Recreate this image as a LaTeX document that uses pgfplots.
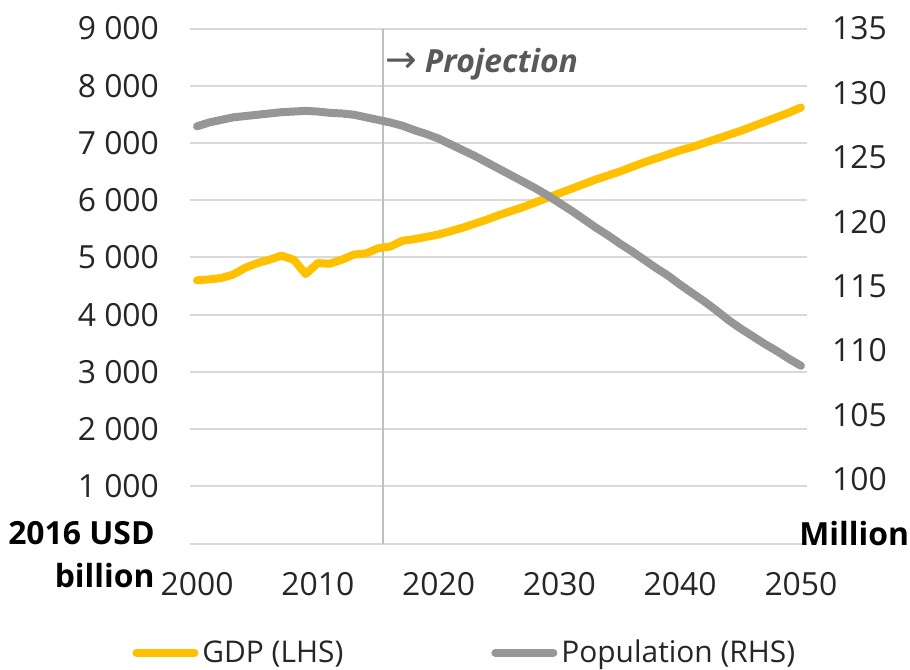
\documentclass[border=0pt]{standalone}
\usepackage{fontspec}
\setmainfont{Open Sans}
\newfontfamily\arrowfont{DejaVu Sans}
\usepackage{pgfplots}
\usepackage{pgfplotstable}
\pgfplotsset{compat=1.18}
\definecolor{gdp}{HTML}{FFC000}
\definecolor{pop}{HTML}{969696}
\definecolor{gridc}{HTML}{D9D9D9}
\definecolor{vline}{HTML}{BFBFBF}
\definecolor{projc}{HTML}{595959}
\definecolor{txt}{HTML}{262626}

\pgfplotstableread{
year gdp
2000 4600
2001 4615
2002 4640
2003 4700
2004 4820
2005 4900
2006 4960
2007 5030
2008 4960
2009 4710
2010 4900
2011 4890
2012 4960
2013 5050
2014 5070
2015 5160
2016 5190
2017 5290
2018 5320
2019 5360
2020 5400
2021 5460
2022 5520
2023 5590
2024 5660
2025 5740
2026 5810
2027 5880
2028 5960
2029 6040
2030 6120
2031 6200
2032 6280
2033 6360
2034 6430
2035 6500
2036 6580
2037 6660
2038 6730
2039 6800
2040 6870
2041 6930
2042 7000
2043 7070
2044 7140
2045 7210
2046 7290
2047 7370
2048 7450
2049 7530
2050 7620
}\gdptable

\pgfplotstableread{
year pop
2000 127.4
2001 127.7
2002 127.9
2003 128.1
2004 128.2
2005 128.3
2006 128.4
2007 128.5
2008 128.55
2009 128.6
2010 128.55
2011 128.45
2012 128.4
2013 128.3
2014 128.1
2015 127.9
2016 127.7
2017 127.45
2018 127.1
2019 126.8
2020 126.45
2021 126.0
2022 125.55
2023 125.1
2024 124.6
2025 124.1
2026 123.6
2027 123.1
2028 122.6
2029 122.05
2030 121.45
2031 120.85
2032 120.2
2033 119.55
2034 118.95
2035 118.3
2036 117.7
2037 117.05
2038 116.4
2039 115.8
2040 115.1
2041 114.45
2042 113.8
2043 113.1
2044 112.35
2045 111.7
2046 111.1
2047 110.5
2048 109.95
2049 109.35
2050 108.8
}\poptable

\begin{document}
\begin{tikzpicture}
\useasboundingbox (-95bp,-63.25bp) rectangle (360bp,271.75bp);
\begin{axis}[
  scale only axis, width=308.5bp, height=257.5bp,
  at={(0,0)}, anchor=south west,
  xmin=1999.42, xmax=2050.5,
  ymin=0, ymax=9000,
  xtick={2000,2010,...,2050},
  ytick={0,1000,...,9000},
  yticklabels={{},{1 000},{2 000},{3 000},{4 000},{5 000},{6 000},{7 000},{8 000},{9 000}},
  ymajorgrids,
  grid style={gridc, line width=1bp},
  axis line style={draw=none},
  major tick length=0,
  /pgf/number format/assume math mode=true,
  xticklabel style={/pgf/number format/1000 sep={}},
  tick label style={font=\fontsize{16}{19}\selectfont, text=txt},
  xticklabel style={yshift=-11bp},
  yticklabel style={xshift=-12bp},
  clip=false,
]
\addplot[vline, line width=1bp, forget plot] coordinates {(2015.4,0) (2015.4,9000)};
\addplot[gdp, line width=4bp, line cap=round, line join=round] table[x=year,y=gdp] {\gdptable};
\node[anchor=west, inner sep=0, text=projc] at (axis cs:2015.55,8380)
  {{\arrowfont\fontsize{19}{20}\selectfont →}\hspace{4bp}{\fontsize{16}{19}\selectfont\bfseries\itshape Projection}};
\end{axis}
\begin{axis}[
  scale only axis, width=308.5bp, height=257.5bp,
  at={(0,0)}, anchor=south west,
  xmin=1999.42, xmax=2050.5,
  ymin=95, ymax=135,
  ytick={100,105,...,135},
  axis y line*=right,
  axis x line=none,
  axis line style={draw=none},
  major tick length=0,
  /pgf/number format/assume math mode=true,
  tick label style={font=\fontsize{16}{19}\selectfont, text=txt},
  yticklabel style={xshift=9bp},
  clip=false,
  legend columns=2,
  legend style={at={(0.447,-0.2126)}, anchor=center, draw=none, fill=none,
    font=\fontsize{15}{18}\selectfont, text=txt, inner sep=0pt,
    /tikz/every even column/.append style={column sep=72bp}},
  legend image code/.code={\draw[#1] (1bp,0) -- (30bp,0);},
]
\addlegendimage{gdp, line width=4bp, line cap=round}
\addlegendentry{GDP (LHS)}
\addplot[pop, line width=4bp, line cap=round, line join=round] table[x=year,y=pop] {\poptable};
\addlegendentry{Population (RHS)}
\end{axis}
\node[anchor=east, inner sep=0, font=\bfseries\fontsize{16}{19}\selectfont, text=black] at (-17.5bp,5bp) {2016 USD};
\node[anchor=east, inner sep=0, font=\bfseries\fontsize{16}{19}\selectfont, text=black] at (-17.5bp,-16bp) {billion};
\node[anchor=west, inner sep=0, font=\bfseries\fontsize{16}{19}\selectfont, text=black] at (304.5bp,5bp) {Million};
\end{tikzpicture}
\end{document}
